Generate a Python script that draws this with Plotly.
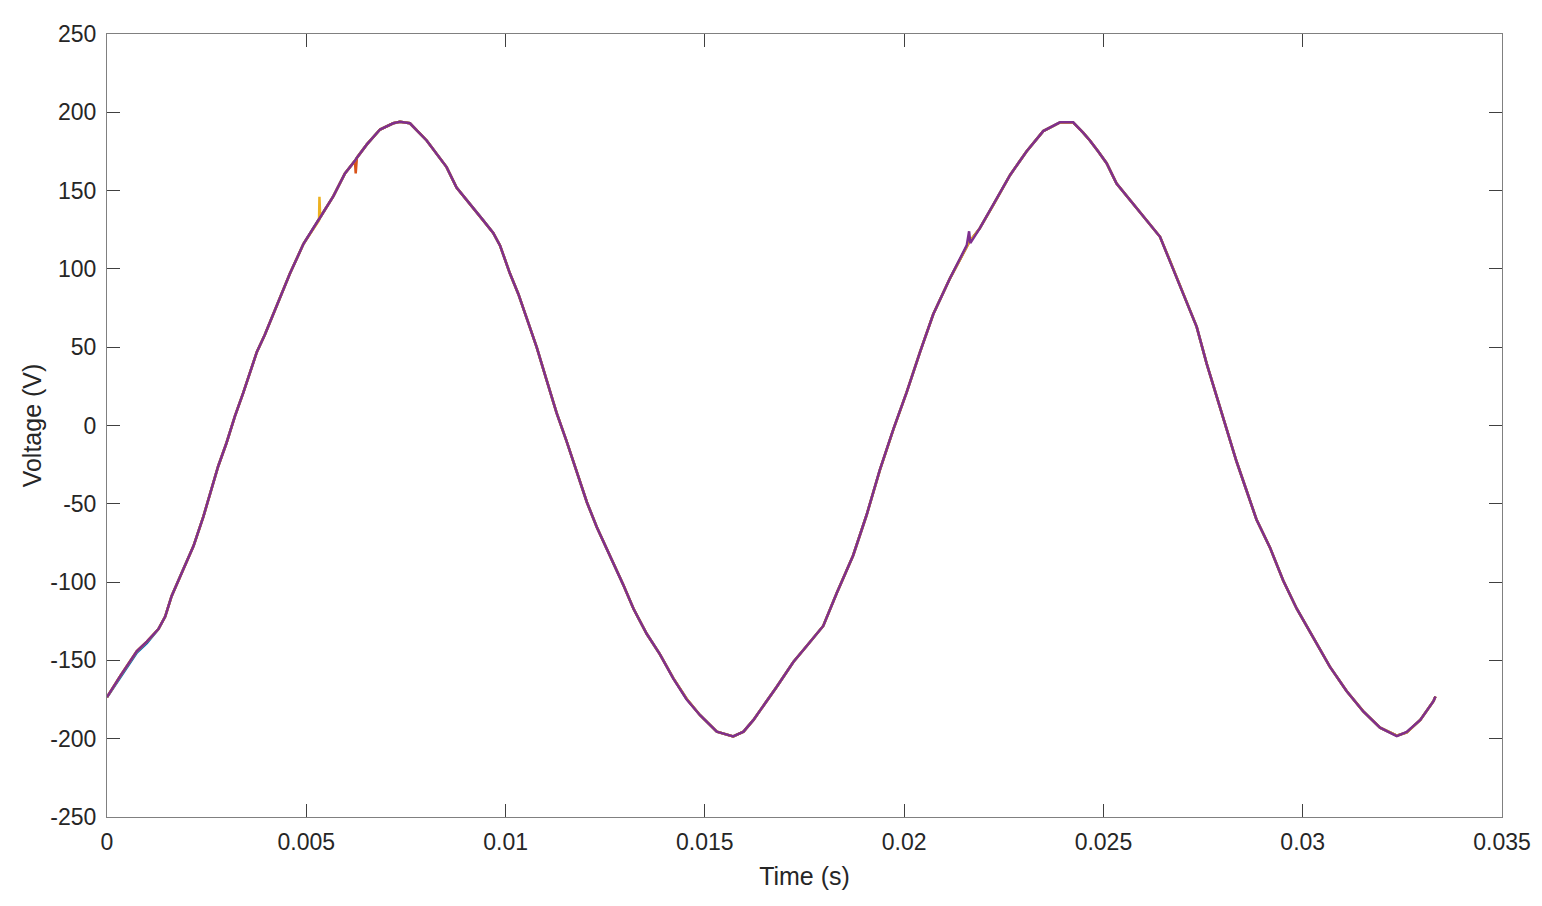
import plotly.graph_objects as go

# Time samples (s)
t = [0.0, 0.00033, 0.00075, 0.0010, 0.00129, 0.00146, 0.00162, 0.00191, 0.00217, 0.00242,
     0.00263, 0.00279, 0.0030, 0.00321, 0.00342, 0.00376, 0.00396, 0.00426, 0.00459, 0.00493,
     0.00518, 0.00532, 0.00533, 0.00535, 0.00568, 0.00597, 0.00622, 0.00624, 0.00627, 0.00652,
     0.00685, 0.00718, 0.00735, 0.0076, 0.00802, 0.00852, 0.00877, 0.00944, 0.00969, 0.00986,
     0.01011, 0.01032, 0.01053, 0.01078, 0.01103, 0.01128, 0.01153, 0.01178, 0.01204, 0.01229,
     0.01262, 0.01295, 0.01321, 0.01354, 0.01387, 0.01421, 0.01454, 0.01488, 0.0153, 0.01571,
     0.01597, 0.01622, 0.0168, 0.01722, 0.01755, 0.01797, 0.01831, 0.01872, 0.01906, 0.01939,
     0.01973, 0.02006, 0.0204, 0.02073, 0.02115, 0.02157, 0.02163, 0.02166, 0.0219, 0.02224,
     0.02266, 0.02307, 0.02349, 0.02391, 0.02424, 0.02449, 0.02466, 0.02487, 0.02508, 0.02533,
     0.02575, 0.02617, 0.02642, 0.02667, 0.027, 0.02734, 0.02759, 0.02784, 0.02809, 0.02834,
     0.02859, 0.02884, 0.02918, 0.02951, 0.02985, 0.03026, 0.03068, 0.0311, 0.03152, 0.03194,
     0.03236, 0.03261, 0.03295, 0.03328, 0.03333]

# Voltage (V) of each measured trace
v_blue = [-173.5, -161, -145, -139, -130, -122, -109, -92, -77, -58,
          -40, -26, -11, 6, 21, 47, 58, 77, 97, 116,
          126, 131, 132, 133, 146.5, 161, 169, 170, 171, 179.5,
          189, 193, 194, 193, 182, 165, 152, 131, 123, 115,
          97, 84, 68, 50, 29, 8, -10, -28.5, -49, -65,
          -83, -101.5, -117, -133, -146, -161.5, -174.5, -185, -195.5, -198.5,
          -195.5, -188, -167, -151, -141, -128, -107, -83, -57, -28.5,
          -2.5, 21, 47, 71, 94, 115, 117, 118, 126, 141,
          160, 175, 188, 193.5, 193.5, 187, 182, 175, 167.5, 154.5,
          141.5, 128.5, 120.5, 105, 84, 63, 39.5, 18.5, -2.5, -23,
          -41.5, -60, -78, -99, -117, -135.5, -154, -169.5, -182.5, -193,
          -198, -196, -188, -176, -173]

v_orange = [-173.5, -160, -144, -138, -130, -122, -109, -92, -77, -58,
            -40, -26, -11, 6, 21, 47, 58, 77, 97, 116,
            126, 131, 132, 133, 146.5, 161, 169, 161, 171, 179.5,
            189, 193, 194, 193, 182, 165, 152, 131, 123, 115,
            97, 84, 68, 50, 29, 8, -10, -28.5, -49, -65,
            -83, -101.5, -117, -133, -146, -161.5, -174.5, -185, -195.5, -198.5,
            -195.5, -188, -167, -151, -141, -128, -107, -83, -57, -28.5,
            -2.5, 21, 47, 71, 94, 115, 117, 118, 126, 141,
            160, 175, 188, 193.5, 193.5, 187, 182, 175, 167.5, 154.5,
            141.5, 128.5, 120.5, 105, 84, 63, 39.5, 18.5, -2.5, -23,
            -41.5, -60, -78, -99, -117, -135.5, -154, -169.5, -182.5, -193,
            -198, -196, -188, -176, -173]

v_yellow = [-173.5, -160, -144, -138, -130, -122, -109, -92, -77, -58,
            -40, -26, -11, 6, 21, 47, 58, 77, 97, 116,
            126, 131, 146, 133, 146.5, 161, 169, 170, 171, 179.5,
            189, 193, 194, 193, 182, 165, 152, 131, 123, 115,
            97, 84, 68, 50, 29, 8, -10, -28.5, -49, -65,
            -83, -101.5, -117, -133, -146, -161.5, -174.5, -185, -195.5, -198.5,
            -195.5, -188, -167, -151, -141, -128, -107, -83, -57, -28.5,
            -2.5, 21, 47, 71, 94, 115, 117, 118, 126, 141,
            160, 175, 188, 193.5, 193.5, 187, 182, 175, 167.5, 154.5,
            141.5, 128.5, 120.5, 105, 84, 63, 39.5, 18.5, -2.5, -23,
            -41.5, -60, -78, -99, -117, -135.5, -154, -169.5, -182.5, -193,
            -198, -196, -188, -176, -173]

v_purple = [-173.5, -160, -144, -138, -130, -122, -109, -92, -77, -58,
            -40, -26, -11, 6, 21, 47, 58, 77, 97, 116,
            126, 131, 132, 133, 146.5, 161, 169, 170, 171, 179.5,
            189, 193, 194, 193, 182, 165, 152, 131, 123, 115,
            97, 84, 68, 50, 29, 8, -10, -28.5, -49, -65,
            -83, -101.6, -117, -133, -146, -161.7, -174.8, -185, -195.5, -198.5,
            -195.5, -188, -167, -151, -141, -128, -107, -83, -57, -28.4,
            -2.3, 21, 47, 71, 94, 115, 124, 116.5, 126, 141,
            160, 175, 188, 193.6, 193.6, 187, 182, 175, 167.5, 154.5,
            141.4, 128.3, 120.5, 104.8, 84, 63, 39.5, 18.6, -2.3, -23,
            -41.5, -60, -78, -99, -117, -135.6, -154, -169.5, -182.6, -193,
            -198.3, -195.7, -188, -176, -173]

series = [("blue", v_blue, "#0072BD"), ("orange", v_orange, "#D95319"),
          ("yellow", v_yellow, "#EDB120"), ("purple", v_purple, "#7E2F8E")]

x_ticks = [0, 0.005, 0.01, 0.015, 0.02, 0.025, 0.03, 0.035]
x_labels = ["0", "0.005", "0.01", "0.015", "0.02", "0.025", "0.03", "0.035"]
y_ticks = [-250, -200, -150, -100, -50, 0, 50, 100, 150, 200, 250]
y_labels = ["-250", "-200", "-150", "-100", "-50", "0", "50", "100", "150", "200", "250"]

FONT = "Liberation Sans, Arial, Helvetica"

fig = go.Figure()
for name, v, c in series:
    fig.add_trace(go.Scatter(x=t, y=v, mode="lines", name=name,
                             line=dict(color=c, width=2.5), showlegend=False))

axis_common = dict(showline=True, linecolor="#808080", linewidth=1, mirror="ticks",
                   ticks="inside", ticklen=13, tickcolor="#404040", tickwidth=1,
                   showgrid=False, zeroline=False,
                   tickfont=dict(family=FONT, size=23, color="#262626"))

fig.update_layout(
    width=1542, height=906,
    margin=dict(l=107, r=40, t=34, b=89),
    plot_bgcolor="white", paper_bgcolor="white",
    xaxis=dict(range=[0, 0.035], tickvals=x_ticks, ticktext=x_labels,
               ticklabelstandoff=4,
               title=dict(text="Time (s)", standoff=13,
                          font=dict(family=FONT, size=25, color="#262626")),
               **axis_common),
    yaxis=dict(range=[-250, 250], tickvals=y_ticks, ticktext=y_labels,
               ticklabelstandoff=5,
               title=dict(text="Voltage (V)", standoff=1,
                          font=dict(family=FONT, size=25, color="#262626")),
               **axis_common),
)

fig.write_html("out.html", config={"displayModeBar": False})

# remove the browser's default page margin so the figure sits at the window origin
with open("out.html", "r", encoding="utf-8") as f:
    html = f.read()
html = html.replace("<body>", '<body style="margin:0;padding:0;">', 1)
with open("out.html", "w", encoding="utf-8") as f:
    f.write(html)
